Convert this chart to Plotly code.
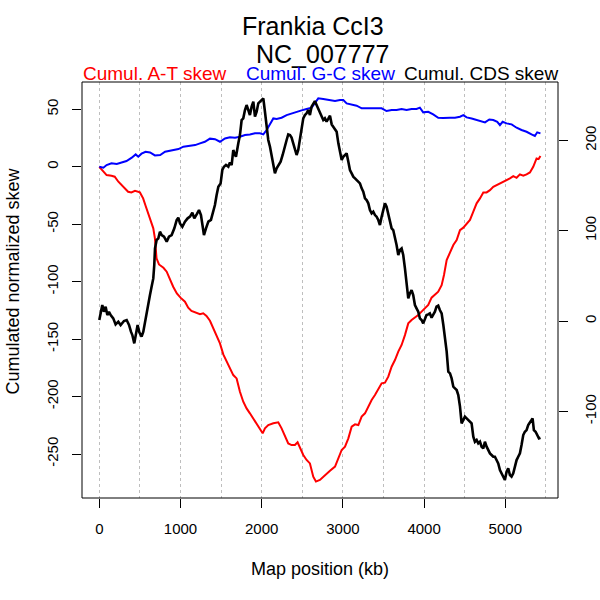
import plotly.graph_objects as go

# ---------------- data (kb positions, cumulated skews) ----------------
at_pos = [0, 50, 90, 150, 190, 235, 275, 315, 355, 395, 440, 500, 540, 570, 605, 635, 665, 685, 705, 735,
          790, 830, 870, 910, 955, 1000, 1055, 1095, 1135, 1200, 1240, 1280, 1320, 1363, 1404, 1445, 1486,
          1527, 1568, 1609, 1650, 1691, 1732, 1773, 1814, 1855, 1897, 1938, 1979, 2012, 2040, 2081, 2143,
          2204, 2245, 2286, 2327, 2368, 2409, 2442, 2471, 2512, 2553, 2594, 2635, 2668, 2717, 2758, 2800,
          2841, 2903, 2944, 2985, 3026, 3067, 3108, 3149, 3190, 3231, 3272, 3313, 3354, 3395, 3436, 3477,
          3518, 3559, 3600, 3641, 3682, 3723, 3764, 3805, 3846, 3887, 3928, 3969, 4010, 4051, 4092, 4133,
          4174, 4216, 4245, 4278, 4319, 4360, 4401, 4442, 4483, 4524, 4565, 4606, 4647, 4688, 4729, 4770,
          4811, 4852, 4893, 4934, 4975, 5016, 5057, 5098, 5139, 5180, 5221, 5262, 5303, 5344, 5385, 5410, 5433]
at_skew = [0, -3.7, -7.2, -7.8, -8.6, -13, -15.9, -18.2, -21.7, -22.3, -21, -22.3, -27.5, -33.9, -40.5,
           -46.3, -53.6, -62.3, -79.7, -85, -87.9, -91.3, -98.6, -104.4, -110.2, -113.9, -117.4, -122.6,
           -125.5, -127, -128.4, -127.5, -129.8, -134, -140.6, -147.9, -153.7, -163.3, -169.7, -175.5,
           -181.3, -184.2, -195.8, -204.5, -210.3, -214.6, -219, -223.3, -227.7, -232, -227.7, -224.8,
           -223.3, -222.4, -227.7, -235, -240.8, -242.2, -242.2, -239.8, -245.1, -250.9, -255.2, -258.2,
           -269.7, -274, -272.6, -269.7, -266.5, -264.5, -261, -253.8, -246.5, -243.6, -236.4, -226.2,
           -224.2, -224.8, -217.5, -214.6, -208.8, -203, -198.7, -192.9, -188.5, -187.9, -182.7, -174,
           -168.2, -160.9, -155.1, -146.5, -136.3, -133.4, -131.3, -129, -126.1, -123.2, -120.3, -113.9,
           -111.6, -108.7, -103, -94.2, -81.2, -73.9, -68.1, -63.7, -55.1, -53, -50.1, -46.3, -39.1,
           -31.8, -27.5, -22.3, -22.3, -20.3, -17.4, -15.9, -14.4, -13.6, -11.5, -10.1, -8.1, -9.6, -6.6,
           -7.8, -6.6, -4.9, 0, 7.3, 6.7, 9.4]

gc_pos = [0, 50, 90, 150, 215, 275, 335, 400, 448, 480, 520, 570, 625, 685, 750, 810, 890, 975, 1035,
          1095, 1180, 1240, 1300, 1363, 1425, 1486, 1548, 1609, 1671, 1732, 1794, 1855, 1917, 1979, 2020,
          2061, 2102, 2143, 2184, 2245, 2307, 2368, 2430, 2491, 2553, 2615, 2668, 2697, 2758, 2820, 2903,
          2964, 3005, 3046, 3108, 3169, 3231, 3292, 3354, 3415, 3477, 3538, 3600, 3661, 3723, 3784, 3846,
          3907, 3948, 3989, 4051, 4112, 4174, 4235, 4257, 4319, 4380, 4442, 4483, 4524, 4586, 4647, 4709,
          4750, 4803, 4852, 4901, 4934, 4967, 5016, 5078, 5139, 5200, 5262, 5323, 5364, 5393, 5433]
gc_skew = [0, -0.8, 1.5, 3, 2.4, 3.8, 5, 7.9, 10.8, 8.8, 11.4, 13.1, 12.5, 9.9, 10.2, 13.1, 14.3, 15.4,
           17.5, 18, 18.9, 20.4, 21.8, 24.5, 24, 21.8, 24.7, 25.6, 25.3, 26.2, 27.6, 28.2, 29.1, 29.1, 28.2,
           32, 36.9, 42.1, 41.6, 42.7, 45, 46.5, 47.9, 49.1, 50.3, 51.5, 56.7, 59.6, 59, 58, 57.2, 58.1,
           58.1, 55.2, 54.3, 53.2, 50.9, 50.9, 51.5, 50.9, 50.9, 48.5, 49.4, 49.4, 50.3, 49.4, 50.3, 50.3,
           51.5, 47.4, 47.9, 45.6, 42.7, 42.5, 42.7, 42.7, 42.7, 43.6, 45, 43, 42.1, 40.7, 39.2, 38.6, 41.2,
           40.7, 39.2, 36.3, 39.2, 37.8, 36.9, 34, 32, 30.5, 28.2, 26.8, 30, 29.1]

cds_pos = [0, 16, 37, 57, 78, 99, 119, 140, 172, 201, 234, 263, 283, 304, 337, 366, 390, 407, 431, 452,
           472, 493, 521, 542, 562, 583, 604, 624, 644, 665, 677, 686, 706, 727, 747, 768, 797, 830, 858,
           891, 924, 953, 973, 994, 1023, 1055, 1088, 1117, 1146, 1170, 1199, 1228, 1252, 1269, 1289, 1314,
           1343, 1375, 1404, 1424, 1445, 1466, 1494, 1515, 1535, 1560, 1589, 1609, 1630, 1650, 1671, 1683,
           1712, 1732, 1753, 1773, 1794, 1814, 1835, 1855, 1876, 1897, 1917, 1938, 1958, 1979, 1999, 2020,
           2040, 2061, 2081, 2102, 2122, 2143, 2163, 2184, 2204, 2233, 2258, 2286, 2307, 2327, 2348, 2368,
           2389, 2409, 2430, 2450, 2471, 2491, 2512, 2532, 2553, 2573, 2594, 2614, 2635, 2655, 2676, 2696,
           2717, 2737, 2758, 2778, 2799, 2821, 2841, 2862, 2882, 2903, 2923, 2944, 2964, 2985, 3005, 3026,
           3046, 3067, 3087, 3108, 3128, 3149, 3169, 3190, 3210, 3231, 3251, 3272, 3292, 3313, 3333, 3354,
           3374, 3395, 3415, 3436, 3456, 3477, 3497, 3518, 3538, 3559, 3579, 3600, 3620, 3641, 3661, 3682,
           3702, 3723, 3743, 3764, 3784, 3805, 3825, 3846, 3866, 3887, 3907, 3928, 3948, 3969, 3989, 4010,
           4030, 4051, 4071, 4092, 4112, 4133, 4153, 4174, 4194, 4216, 4237, 4257, 4278, 4298, 4319, 4339,
           4360, 4380, 4401, 4421, 4442, 4462, 4483, 4503, 4524, 4544, 4565, 4585, 4606, 4626, 4647, 4667,
           4688, 4708, 4729, 4749, 4770, 4790, 4811, 4831, 4852, 4872, 4893, 4913, 4934, 4954, 4975, 4995,
           5016, 5036, 5057, 5077, 5098, 5118, 5139, 5159, 5180, 5200, 5221, 5241, 5262, 5282, 5303, 5323,
           5336, 5352, 5373, 5393, 5414, 5433]
cds_skew = [1.1, 10.3, 17.7, 10.3, 15.9, 6.6, 10.3, 6.6, 3, -3.7, -0.7, -4.4, -1.5, 0, 1.1, -4.4, -11.8,
            -15.5, -24.7, -13.7, -4.4, -12.5, -17.3, -11.8, -0.7, 6.6, 17.7, 28.8, 38, 47.2, 62, 80.4, 89.7,
            91.5, 98.9, 95.2, 93.4, 87.8, 93.4, 95.2, 102.6, 111.8, 114.4, 108.1, 104.4, 110, 113.7, 115.5,
            119.9, 113.7, 118.1, 122.9, 117.3, 106.3, 95.2, 102.6, 110, 112, 122, 128.4, 139.5, 148.7, 152.4,
            167.2, 170.8, 172.7, 170.8, 175.6, 172.7, 189.3, 183.8, 181.9, 196.7, 205.9, 222.5, 224.4, 233.6,
            239.1, 233.6, 228, 237.3, 242.8, 226.2, 231.7, 241, 242.8, 244.6, 246.5, 231.7, 217, 200.4, 193,
            181.9, 172.7, 163.5, 169, 172.7, 176.4, 183.8, 194.8, 200.4, 206.6, 205.9, 203, 196.7, 189.3,
            183.8, 189.3, 202.2, 217, 224.4, 228, 229.9, 233.6, 228, 237.3, 241, 243.5, 239.1, 235.4, 229.9,
            226.2, 222.5, 224.4, 220.7, 224, 227.3, 217.7, 215.1, 213.3, 209.6, 196.7, 185.6, 178.2, 181.9,
            183.8, 185.6, 176.4, 167.2, 163.5, 159.8, 157.9, 156.1, 154.2, 152.4, 146.9, 143.2, 135.8, 133.9,
            130.3, 122.9, 119.2, 121, 117.3, 115.5, 111.8, 106.3, 115.5, 124.7, 130.3, 126.6, 119.2, 110,
            102.6, 100.7, 93.4, 84.1, 73.1, 78.6, 80.4, 73.1, 58.3, 39.9, 25.1, 30.6, 34.3, 28.8, 17.7, 14,
            10.3, 3, 1.1, -2.6, 3, 6.6, 7.4, 8.5, 3.7, 6.6, 10.3, 15.9, 17, 12.2, 8.5, -4.4, -19.2, -33.9,
            -56.1, -57.9, -63.5, -72.7, -74.5, -76.4, -81.9, -94.8, -113.3, -109.6, -105.9, -107.7, -109.6,
            -111.4, -113.3, -128, -133.6, -131.7, -135.4, -133.6, -139.1, -141, -133.6, -139.1, -142.8,
            -146.5, -148.3, -150.2, -150.2, -153.9, -157.6, -165, -168.6, -172.3, -176, -166.8, -163.1,
            -170.5, -172.3, -168.6, -161.3, -153.9, -150.2, -146.5, -137.3, -126.2, -122.5, -120.7, -115.1,
            -111.4, -109.6, -107.7, -120.7, -122.5, -126.2, -129.9, -129.2]

x_ticks = [0, 1000, 2000, 3000, 4000, 5000]
left_ticks = [-250, -200, -150, -100, -50, 0, 50]
right_ticks = [-100, 0, 100, 200]

title_line1 = "Frankia CcI3"
title_line2 = "NC_007777"
series_labels = ["Cumul. A-T skew", "Cumul. G-C skew", "Cumul. CDS skew"]
x_title = "Map position (kb)"
y_title = "Cumulated normalized skew"

# ---------------- layout geometry ----------------
W, H = 600, 600
L, R, T, B = 82, 42, 82, 102
PW, PH = W - L - R, H - T - B
FONT = "Liberation Sans, Arial, Helvetica, sans-serif"


def px(x):
    return (x - L) / PW


def py(y):
    return (H - B - y) / PH


fig = go.Figure()
fig.add_trace(go.Scatter(x=at_pos, y=at_skew, mode="lines", line=dict(color="#FF0000", width=2),
                         name=series_labels[0], yaxis="y"))
fig.add_trace(go.Scatter(x=gc_pos, y=gc_skew, mode="lines", line=dict(color="#0000FF", width=2),
                         name=series_labels[1], yaxis="y"))
fig.add_trace(go.Scatter(x=cds_pos, y=cds_skew, mode="lines", line=dict(color="#000000", width=2.6),
                         name=series_labels[2], yaxis="y2"))

grid_col = "#BEBEBE"
common_axis = dict(ticks="outside", ticklen=9, tickwidth=1, tickcolor="black",
                   showline=False, zeroline=False, automargin=False,
                   tickfont=dict(size=15, family=FONT, color="black"))
fig.update_layout(
    template="none",
    width=W, height=H, margin=dict(l=L, r=R, t=T, b=B, pad=0, autoexpand=False),
    paper_bgcolor="white", plot_bgcolor="white", showlegend=False,
    font=dict(family=FONT, color="black", size=15),
    xaxis=dict(range=[-213, 5649], tickvals=x_ticks, ticktext=[str(v) for v in x_ticks],
               showgrid=True, gridcolor=grid_col, griddash="dot", gridwidth=1,
               minor=dict(dtick=500, tick0=0, showgrid=True, gridcolor=grid_col, griddash="dot",
                          gridwidth=1, ticks=""),
               ticklabelstandoff=8, **common_axis),
    yaxis=dict(range=[-288.3, 73.8], tickvals=left_ticks, ticktext=[str(v) for v in left_ticks],
               tickangle=-90, showgrid=False, ticklabelstandoff=8, **common_axis),
    yaxis2=dict(range=[-195.9, 264.6], tickvals=right_ticks, ticktext=[str(v) for v in right_ticks],
                overlaying="y", side="right", tickangle=-90, showgrid=False,
                ticklabelstandoff=10, **common_axis),
    shapes=[dict(type="rect", xref="paper", yref="paper", x0=0, x1=1, y0=0, y1=1,
                 line=dict(color="black", width=1), fillcolor="rgba(0,0,0,0)", layer="above")],
)

ann = []
ann.append(dict(text=title_line1, x=px(313), y=py(25.8), font=dict(size=25)))
ann.append(dict(text=title_line2, x=px(322), y=py(54), font=dict(size=25)))
ann.append(dict(text=series_labels[0], x=px(82), y=py(73.5), xanchor="left", font=dict(size=19, color="#FF0000")))
ann.append(dict(text=series_labels[1], x=px(320), y=py(73.5), font=dict(size=19, color="#0000FF")))
ann.append(dict(text=series_labels[2], x=px(559), y=py(73.5), xanchor="right", font=dict(size=19, color="#000000")))
ann.append(dict(text=x_title, x=px(320), y=py(569), font=dict(size=18)))
ann.append(dict(text=y_title, x=px(12.5), y=py(281), textangle=-90, font=dict(size=18)))
for a in ann:
    a.setdefault("xanchor", "center")
    a.update(xref="paper", yref="paper", yanchor="middle", showarrow=False, borderpad=0)
    a["font"].setdefault("color", "black")
    a["font"]["family"] = FONT
fig.update_layout(annotations=ann)

fig.write_html("out.html", config={"displayModeBar": False, "staticPlot": True},
               post_script="document.body.style.margin='0px';document.body.style.padding='0px';")
